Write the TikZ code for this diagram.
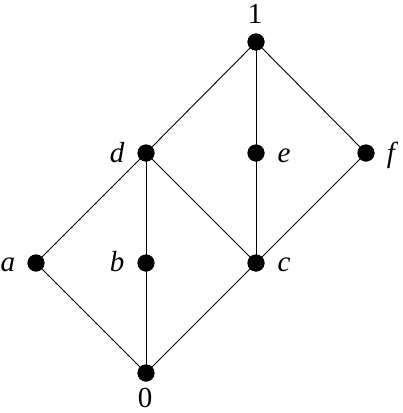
\documentclass[tikz,border=0pt]{standalone}
\usepackage{fontspec}
\setmainfont{Liberation Serif}
\newcommand{\lblsize}{\fontsize{29}{33}\selectfont}
\begin{document}
\begin{tikzpicture}[x=1pt,y=-1pt,
  dot/.style={circle,fill=black,inner sep=0pt,minimum size=17pt},
  lbl/.style={font=\lblsize\itshape,inner sep=0pt,anchor=base},
  num/.style={font=\lblsize,inner sep=0pt,anchor=base},
  edge/.style={line width=0.9pt}]
\useasboundingbox (0,0) rectangle (403,413);
\node[dot] (n1) at (256,42) {};
\node[dot] (d) at (146,153) {};
\node[dot] (e) at (256,153) {};
\node[dot] (f) at (366,153) {};
\node[dot] (a) at (36,263) {};
\node[dot] (b) at (146,263) {};
\node[dot] (c) at (256,263) {};
\node[dot] (n0) at (146,373) {};
\node[num] (l1) at (255,23) {1};
\node[lbl] (ld) at (117,162) {d};
\node[lbl] (le) at (284,162) {e};
\node[lbl] (lf) at (391,162) {f};
\node[lbl] (la) at (8,271) {a};
\node[lbl] (lb) at (117,271) {b};
\node[lbl] (lc) at (284,271) {c};
\node[num] (l0) at (145,407) {0};
\draw[edge] (n1.center) -- (d.center);
\draw[edge] (n1.center) -- (e.center);
\draw[edge] (n1.center) -- (f.center);
\draw[edge] (d.center) -- (a.center);
\draw[edge] (d.center) -- (b.center);
\draw[edge] (d.center) -- (c.center);
\draw[edge] (e.center) -- (c.center);
\draw[edge] (f.center) -- (c.center);
\draw[edge] (a.center) -- (n0.center);
\draw[edge] (b.center) -- (n0.center);
\draw[edge] (c.center) -- (n0.center);
\foreach \n in {n1,d,e,f,a,b,c,n0} \fill (\n) circle (8.5pt);
\end{tikzpicture}
\end{document}
